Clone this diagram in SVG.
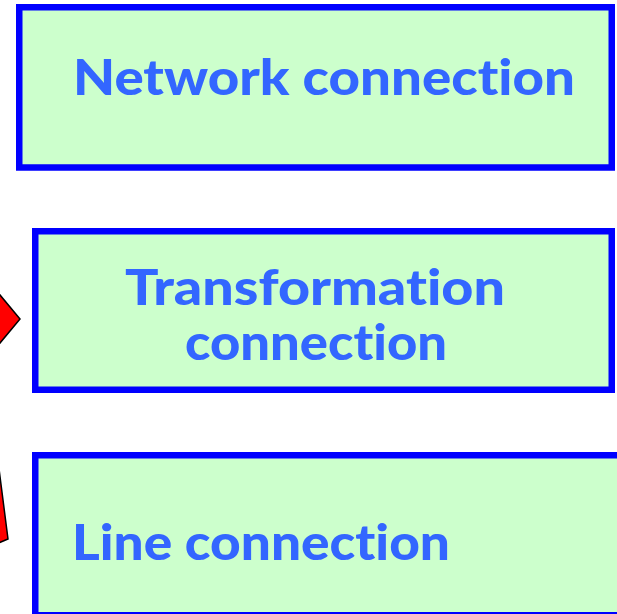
<svg xmlns="http://www.w3.org/2000/svg" width="617" height="614" viewBox="0 0 617 614">
<style>
.box{fill:#ccffcc;stroke:#0000ff;stroke-width:6.5}
.lbl{font-family:Lato,"Liberation Sans",sans-serif;font-weight:900;font-size:50px;fill:#3366ff;font-variant-ligatures:none;font-feature-settings:"liga" 0,"clig" 0}
.arrow{fill:#ff0000;stroke:#000000;stroke-width:1.5}
</style>
<rect width="617" height="614" fill="#ffffff"/>
<g id="connectors">
<polygon class="arrow" points="-20,271 20,319 -20,367"/>
<polygon class="arrow" points="-6,430 8,539 -6,545"/>
</g>
<g id="network">
<rect class="box" x="19.25" y="7.25" width="592.5" height="160.25"/>
<text class="lbl" x="73" y="95" textLength="502" lengthAdjust="spacingAndGlyphs">Network connection</text>
</g>
<g id="transformation">
<rect class="box" x="35.25" y="231.25" width="576.5" height="158.5"/>
<text class="lbl" x="125" y="305" textLength="380" lengthAdjust="spacingAndGlyphs">Transformation</text>
<text class="lbl" x="185" y="360" textLength="262" lengthAdjust="spacingAndGlyphs">connection</text>
</g>
<g id="line">
<rect class="box" x="35.25" y="455.25" width="600" height="160"/>
<text class="lbl" x="72" y="560" textLength="378" lengthAdjust="spacingAndGlyphs">Line connection</text>
</g>
</svg>
